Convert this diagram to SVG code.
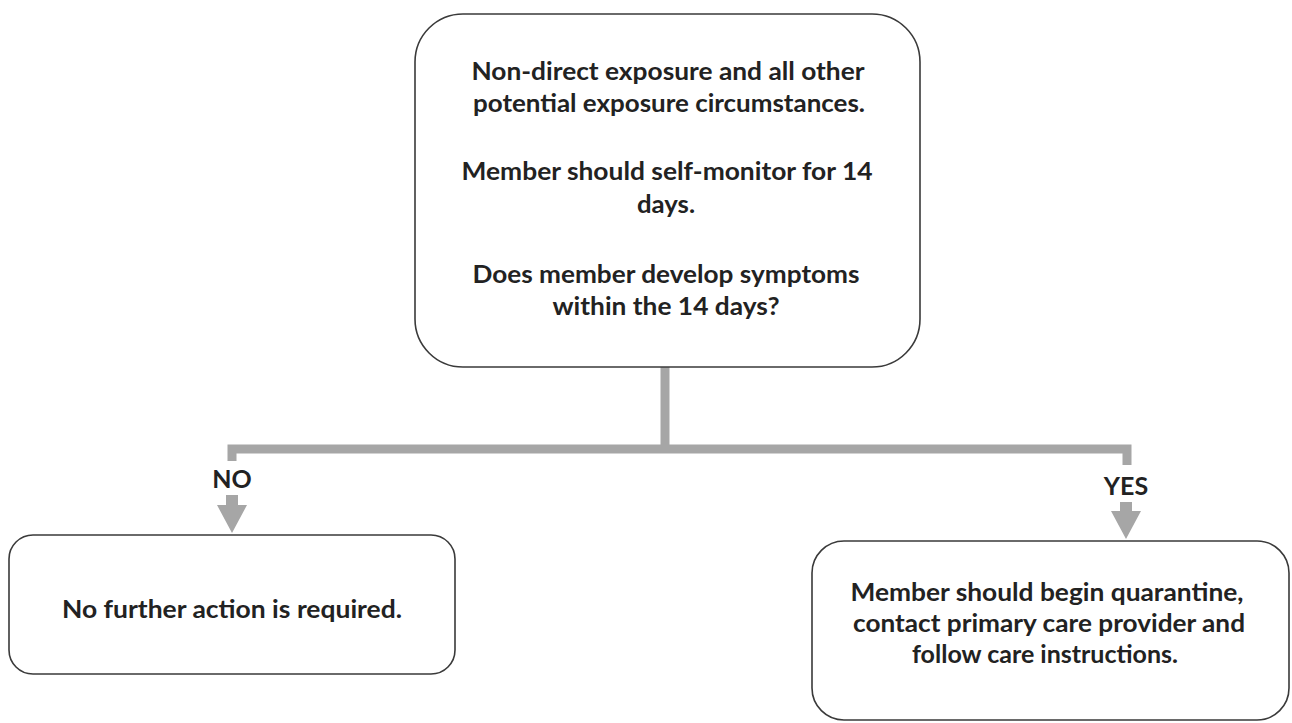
<svg xmlns="http://www.w3.org/2000/svg" width="1292" height="723" viewBox="0 0 1292 723">
  <style>
    .box { fill: #ffffff; stroke: #3a3a3a; stroke-width: 1.6; }
    .t { font-family: Lato, "Open Sans", "Liberation Sans", sans-serif; font-weight: 700; font-size: 24px; fill: #222222; text-anchor: middle; }
    .lbl { font-family: Lato, "Open Sans", "Liberation Sans", sans-serif; font-weight: 700; font-size: 25px; fill: #222222; text-anchor: middle; }
    .conn { fill: none; stroke: #a6a6a6; stroke-width: 9; stroke-linecap: butt; stroke-linejoin: miter; }
    .arr { fill: #a6a6a6; }
  </style>
  <rect width="1292" height="723" fill="#ffffff"/>
  <g id="connectors">
    <path class="conn" d="M665 367 V449"/>
    <path class="conn" d="M232 461 V449 H1127 V465"/>
    <path class="arr" d="M226 495 H238 V505 H247 L232 533 L217 505 H226 Z"/>
    <path class="arr" d="M1120 502 H1132 V511 H1141 L1126 539 L1111 511 H1120 Z"/>
  </g>
  <g id="label-no">
    <text class="lbl" x="232" y="488">NO</text>
  </g>
  <g id="label-yes">
    <text class="lbl" x="1126" y="495">YES</text>
  </g>
  <g id="node-start">
    <rect class="box" x="415" y="14" width="505" height="353" rx="48" ry="48"/>
    <text class="t" x="668" y="80" textLength="393" lengthAdjust="spacingAndGlyphs">Non-direct exposure and all other</text>
    <text class="t" x="669" y="112" textLength="392" lengthAdjust="spacingAndGlyphs">potential exposure circumstances.</text>
    <text class="t" x="667" y="180" textLength="411" lengthAdjust="spacingAndGlyphs">Member should self-monitor for 14</text>
    <text class="t" x="666" y="213" textLength="58" lengthAdjust="spacingAndGlyphs">days.</text>
    <text class="t" x="666" y="283" textLength="387" lengthAdjust="spacingAndGlyphs">Does member develop symptoms</text>
    <text class="t" x="666" y="315" textLength="227" lengthAdjust="spacingAndGlyphs">within the 14 days?</text>
  </g>
  <g id="node-no">
    <rect class="box" x="9" y="535" width="446" height="139" rx="24" ry="24"/>
    <text class="t" x="232" y="618" textLength="340" lengthAdjust="spacingAndGlyphs">No further action is required.</text>
  </g>
  <g id="node-yes">
    <rect class="box" x="812" y="541" width="477" height="179" rx="32" ry="32"/>
    <text class="t" x="1047" y="601" textLength="393" lengthAdjust="spacingAndGlyphs">Member should begin quarantine,</text>
    <text class="t" x="1049" y="632" textLength="392" lengthAdjust="spacingAndGlyphs">contact primary care provider and</text>
    <text class="t" x="1045" y="663" textLength="266" lengthAdjust="spacingAndGlyphs">follow care instructions.</text>
  </g>
</svg>
